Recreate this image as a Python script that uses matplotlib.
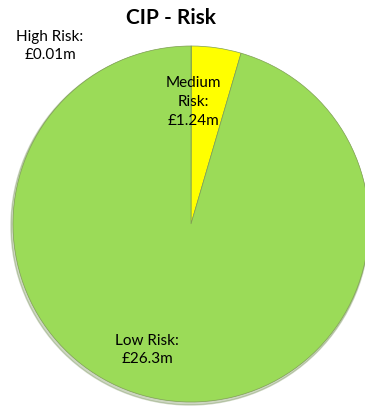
import matplotlib
matplotlib.use("Agg")
import matplotlib.pyplot as plt

categories = ["High Risk", "Medium Risk", "Low Risk"]
values = [0.01, 1.24, 26.3]
value_labels = ["£0.01m", "£1.24m", "£26.3m"]
colors = ["#B0432F", "#FFFF00", "#9BDB58"]

W, H = 365, 409
fig = plt.figure(figsize=(W / 100, H / 100), dpi=100)
ax = fig.add_axes([0, 0, 1, 1])

font = ["Lato", "DejaVu Sans"]

wedges, _ = ax.pie(values, colors=colors, startangle=90, counterclock=False,
                   center=(191, H - 224), radius=178, frame=True,
                   wedgeprops=dict(edgecolor="#7f9f55", linewidth=0.5))
for w in wedges:
    w.set_zorder(1)

# soft shadow under the pie
shadow = plt.Circle((190, H - 226), 179, color="#5a7a35", alpha=0.3, zorder=0)
ax.add_patch(shadow)

ax.set_xlim(0, W)
ax.set_ylim(0, H)
ax.set_aspect("equal")
ax.axis("off")

ax.text(171, H - 18, "CIP - Risk", ha="center", va="center",
        fontsize=15, fontweight="bold", family=font)

label_kw = dict(ha="center", va="center", fontsize=11, family=font,
                linespacing=1.45)
ax.text(50, H - 46, f"{categories[0]}:\n{value_labels[0]}", **label_kw)
ax.text(193, H - 102, "Medium\nRisk:\n" + value_labels[1], **label_kw)
ax.text(147, H - 350, f"{categories[2]}:\n{value_labels[2]}", **label_kw)

fig.savefig("out.png", dpi=100)
